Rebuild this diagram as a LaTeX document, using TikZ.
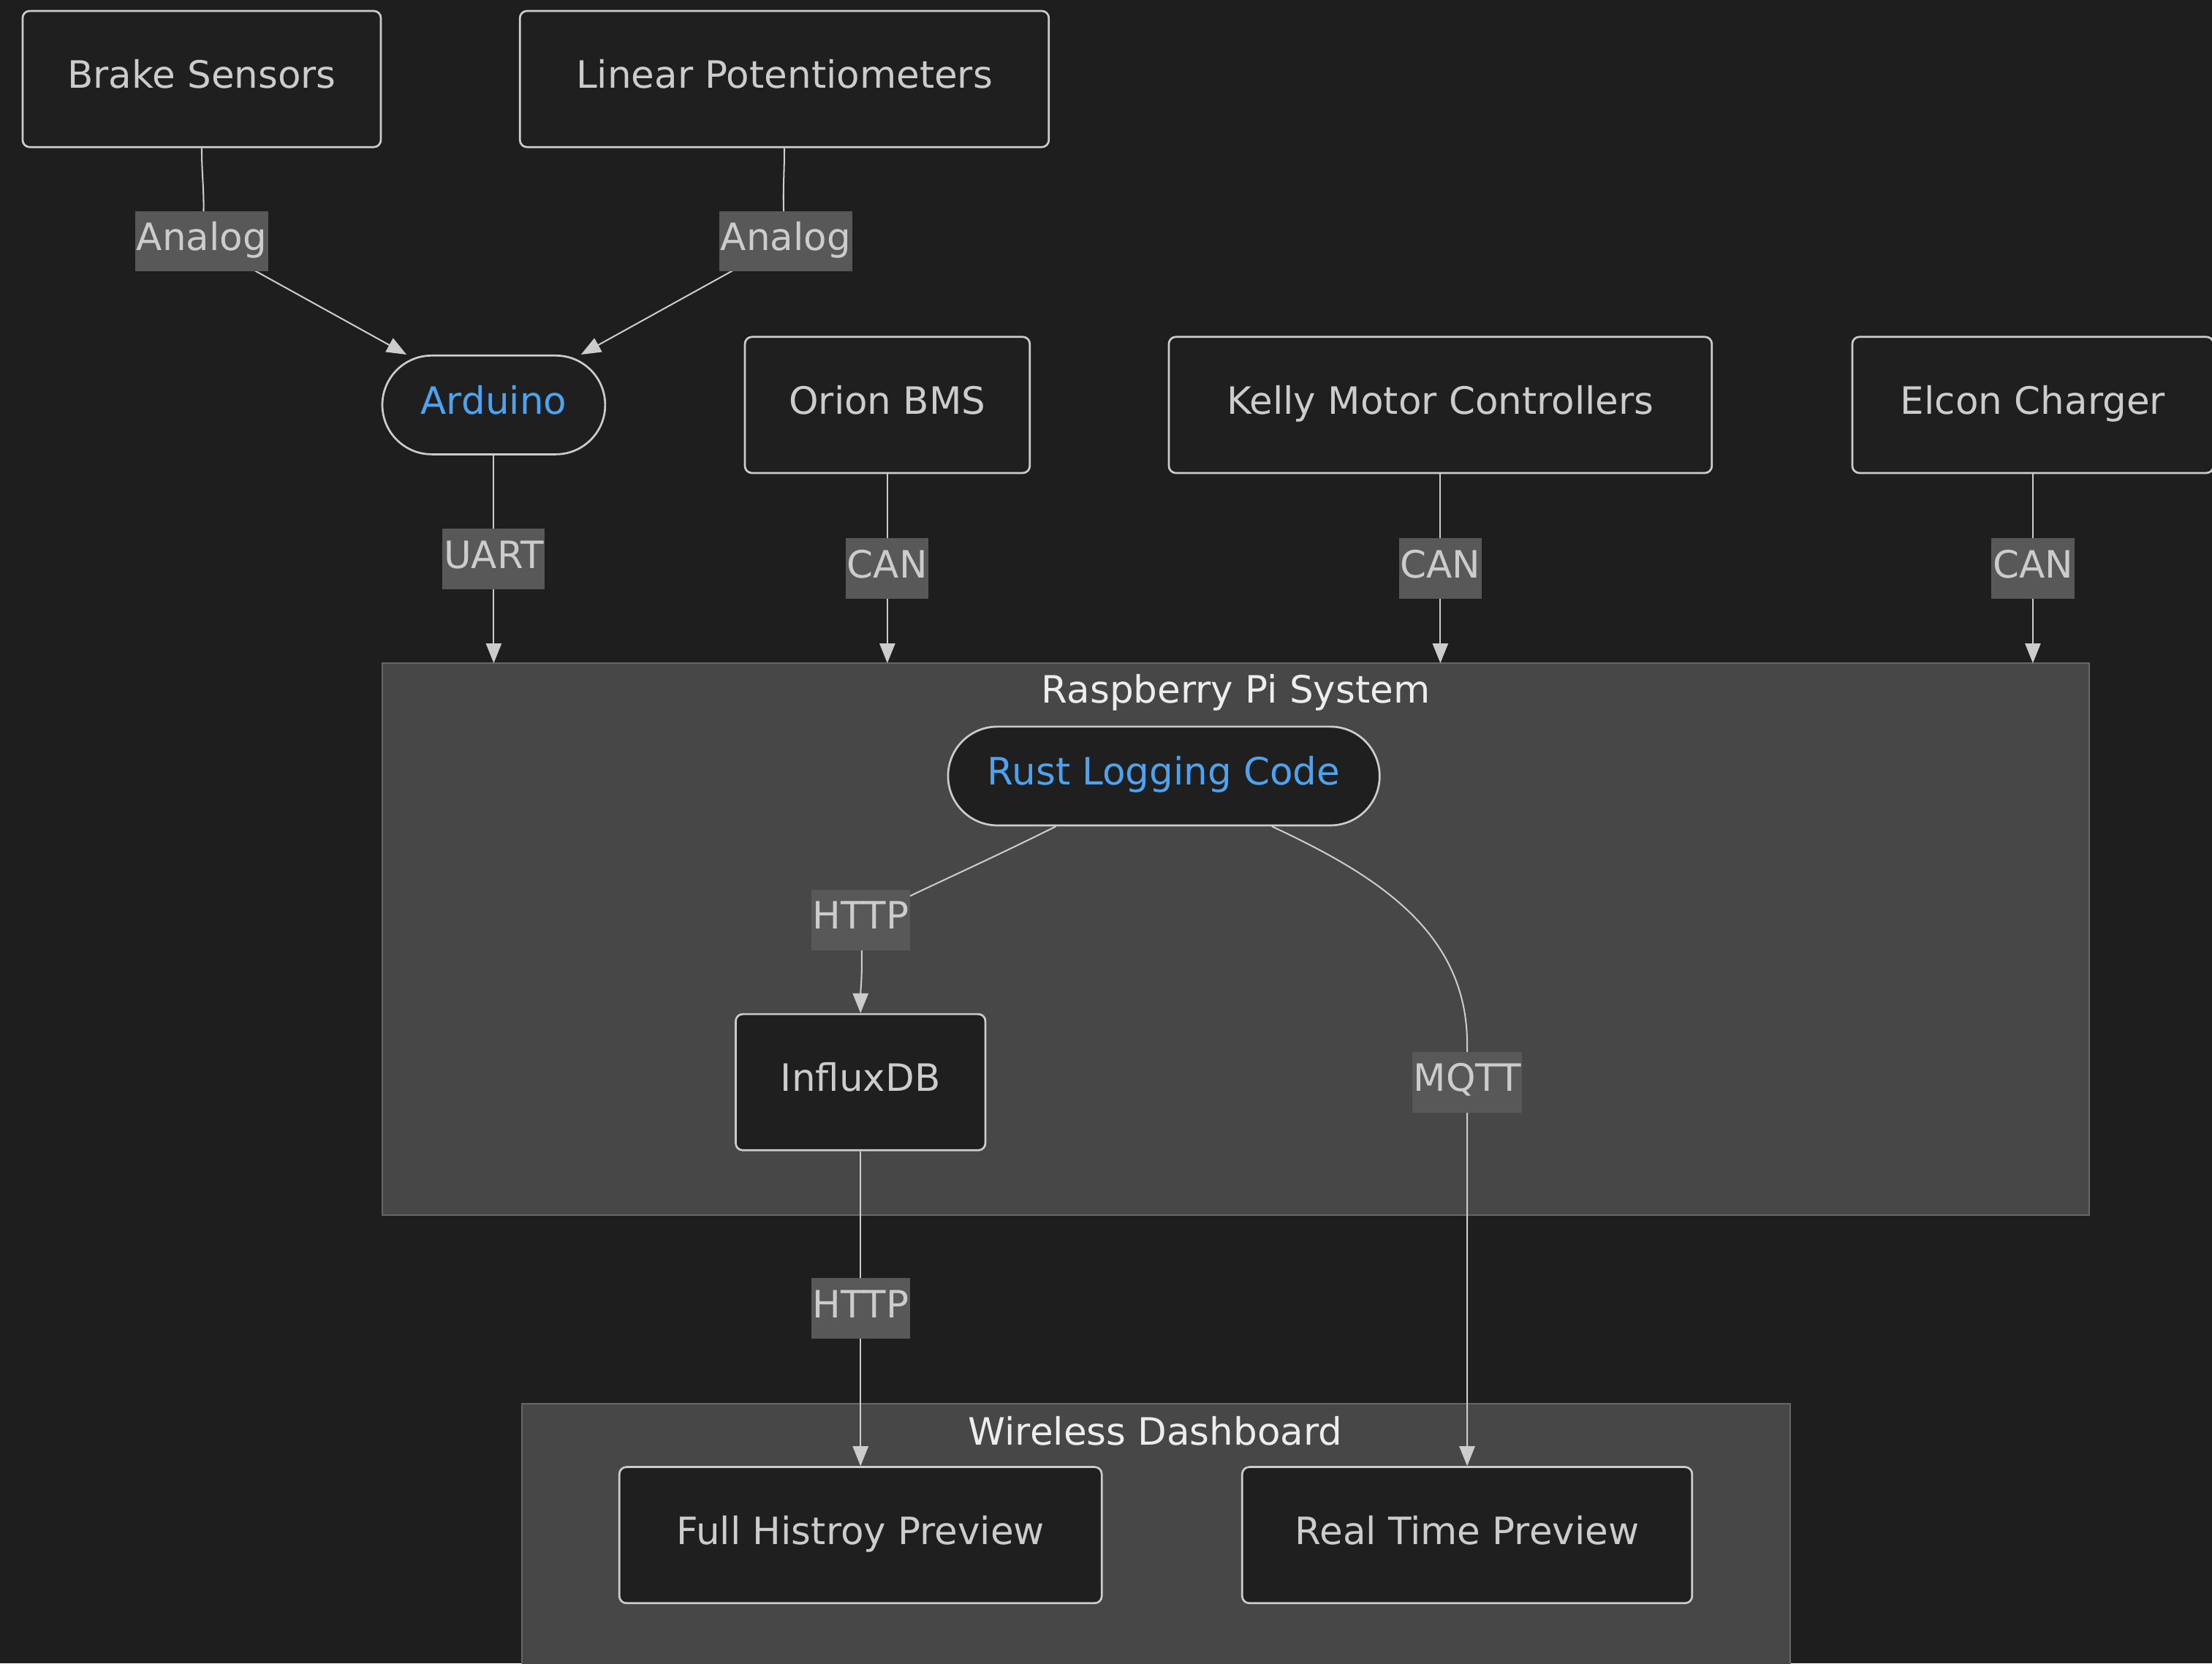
\documentclass[tikz,border=0pt]{standalone}
\usepackage{fontspec}
\setmainfont{DejaVu Sans}
\usetikzlibrary{arrows.meta}
\definecolor{bgc}{HTML}{1E1E1E}
\definecolor{nodefill}{HTML}{1F1F1F}
\definecolor{edgec}{HTML}{CCCCCC}
\definecolor{grpfill}{HTML}{474747}
\definecolor{grpline}{HTML}{666666}
\definecolor{lblfill}{HTML}{585858}
\definecolor{codeblue}{HTML}{4DA3F0}
\begin{document}
\begin{tikzpicture}[
        x=0.02cm, y=-0.02cm,
        font=\fontsize{15.2}{18}\selectfont,
        every node/.style={text height=0.73em, text depth=0em},
        box/.style={draw=edgec, fill=nodefill, line width=0.8pt, rounded corners=0.1cm, text=edgec, minimum height=1.93cm},
        pill/.style={draw=edgec, fill=nodefill, line width=0.8pt, rounded corners=0.7cm, text=codeblue, minimum height=1.4cm},
        lbl/.style={fill=lblfill, text=edgec, inner xsep=0.5pt, inner ysep=0pt, minimum height=0.86cm},
        grp/.style={draw=grpline, fill=grpfill, line width=0.6pt},
        grptitle/.style={text=white!93!black},
        flow/.style={draw=edgec, line width=0.6pt, -{Triangle[length=0.28cm, width=0.22cm]}},
    ]
    \fill[bgc] (0,0) rectangle (1568,1179);
    \useasboundingbox (0,0) rectangle (1568,1179);
    \draw[grp] (271,470) rectangle (1481,861);
    \draw[grp] (370,995) rectangle (1269,1195);
    \coordinate (pitop) at (876,470);
    \node[grptitle] (pititle) at (876,492) {Raspberry Pi System};
    \node[grptitle] (wdtitle) at (819,1018) {Wireless Dashboard};
    \node[box, minimum width=5.08cm] (brake) at (143,56) {Brake Sensors};
    \node[box, minimum width=7.5cm] (linpot) at (556,56) {Linear Potentiometers};
    \node[pill, minimum width=3.16cm] (ard) at (350,287) {Arduino};
    \node[box, minimum width=4.04cm] (orion) at (629,287) {Orion BMS};
    \node[box, minimum width=7.7cm] (kelly) at (1021,287) {Kelly Motor Controllers};
    \node[box, minimum width=5.12cm] (elcon) at (1441,287) {Elcon Charger};
    \node[pill, minimum width=6.12cm] (rust) at (825,550) {Rust Logging Code};
    \node[box, minimum width=3.54cm] (influx) at (610,767) {InfluxDB};
    \node[box, minimum width=6.84cm] (fullh) at (610,1088) {Full Histroy Preview};
    \node[box, minimum width=6.38cm] (rtp) at (1040,1088) {Real Time Preview};
    \draw[flow] (brake.south) .. controls (143,130) and (146,140) .. (143,171) node[lbl] {Analog} -- (ard.150);
    \draw[flow] (linpot.south) .. controls (556,130) and (554,140) .. (557,171) node[lbl] {Analog} -- (ard.30);
    \draw[flow] (ard) -- node[lbl] {UART} (ard |- pitop);
    \draw[flow] (orion) -- node[lbl] {CAN} (orion |- pitop);
    \draw[flow] (kelly) -- node[lbl] {CAN} (kelly |- pitop);
    \draw[flow] (elcon) -- node[lbl] {CAN} (elcon |- pitop);
    \draw[flow] (rust.205) .. controls (700,610) and (650,632) .. (610,652) node[lbl] {HTTP} .. controls (612,690) and (610,700) .. (influx.north);
    \draw[flow] (rust.-25) .. controls (975,620) and (1040,660) .. (1040,740) -- (1040,767) node[lbl] {MQTT} -- (rtp.north);
    \draw[flow] (influx) -- node[lbl] {HTTP} (fullh);
\end{tikzpicture}
\end{document}
